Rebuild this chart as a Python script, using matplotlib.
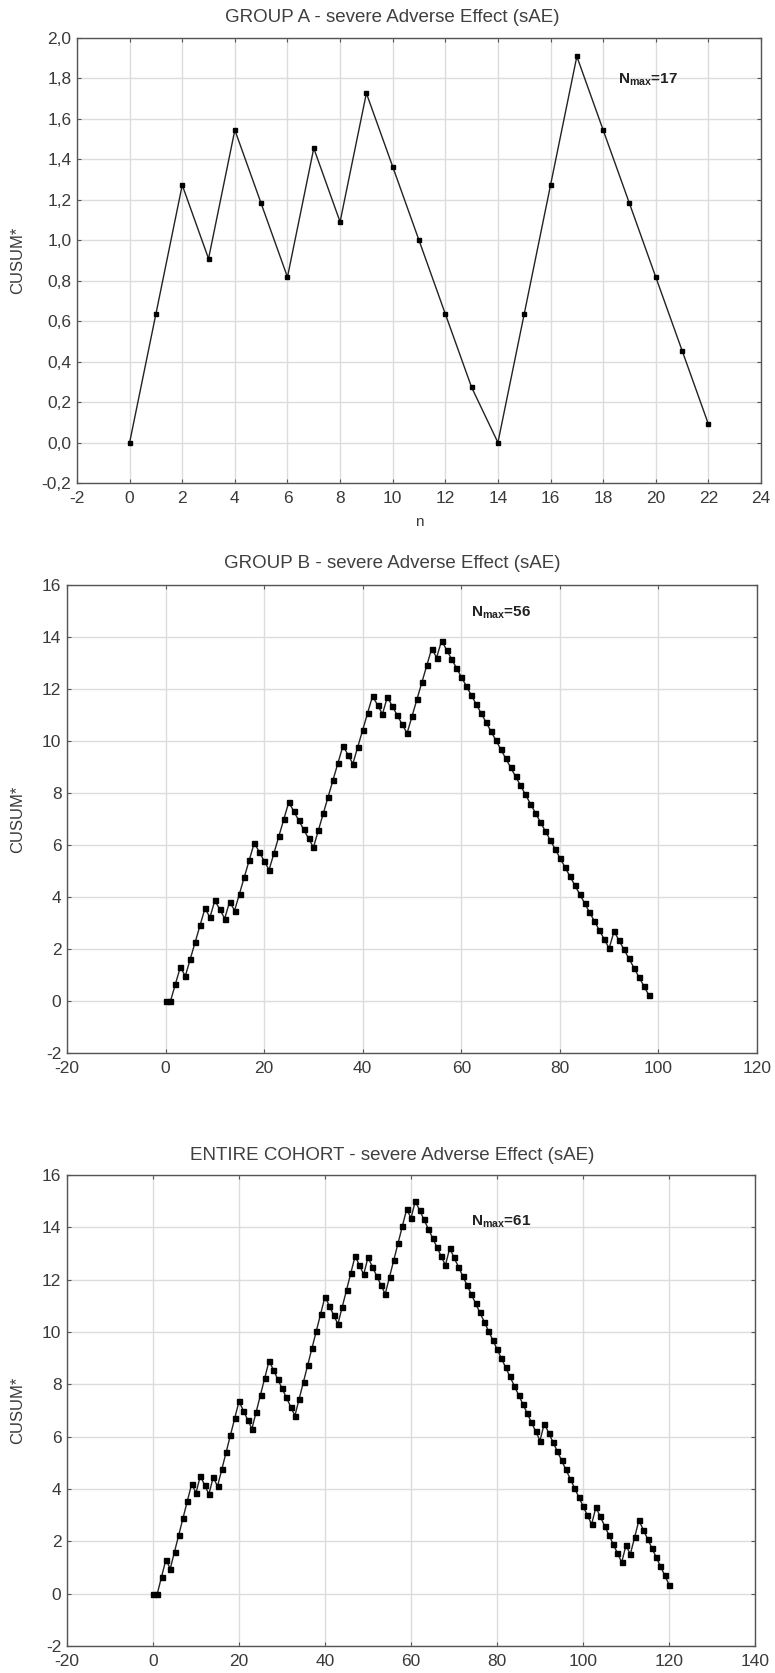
import matplotlib
matplotlib.use("Agg")
import matplotlib.pyplot as plt
from matplotlib.ticker import MultipleLocator, FuncFormatter

plt.rcParams['font.family'] = ['Liberation Sans', 'DejaVu Sans']
plt.rcParams['axes.unicode_minus'] = False
plt.rcParams['mathtext.fontset'] = 'custom'
plt.rcParams['mathtext.rm'] = 'Liberation Sans'
plt.rcParams['mathtext.bf'] = 'Liberation Sans:bold'

# CUSUM* values
cusum_a = [0.0, 0.636, 1.273, 0.909, 1.545, 1.182, 0.818, 1.455, 1.091, 1.727,
           1.364, 1.0, 0.636, 0.273, 0.0, 0.636, 1.273, 1.909, 1.545, 1.182,
           0.818, 0.455, 0.091]

cusum_b = [0.0, 0.0, 0.652, 1.304, 0.956, 1.608, 2.26, 2.912, 3.564, 3.216,
           3.868, 3.52, 3.172, 3.824, 3.476, 4.128, 4.78, 5.432, 6.084, 5.736,
           5.388, 5.04, 5.692, 6.344, 6.996, 7.648, 7.3, 6.952, 6.604, 6.256,
           5.908, 6.56, 7.212, 7.864, 8.516, 9.168, 9.82, 9.472, 9.124, 9.776,
           10.428, 11.08, 11.732, 11.384, 11.036, 11.688, 11.34, 10.992, 10.644, 10.296,
           10.948, 11.6, 12.252, 12.904, 13.556, 13.208, 13.86, 13.512, 13.164, 12.816,
           12.468, 12.12, 11.772, 11.424, 11.076, 10.728, 10.38, 10.032, 9.684, 9.336,
           8.988, 8.64, 8.292, 7.944, 7.596, 7.248, 6.9, 6.552, 6.204, 5.856,
           5.508, 5.16, 4.812, 4.464, 4.116, 3.768, 3.42, 3.072, 2.724, 2.376,
           2.028, 2.68, 2.332, 1.984, 1.636, 1.288, 0.94, 0.592, 0.244]

cusum_all = [0.0, 0.0, 0.65, 1.3, 0.95, 1.6, 2.25, 2.9, 3.55, 4.2,
             3.85, 4.5, 4.15, 3.8, 4.45, 4.1, 4.75, 5.4, 6.05, 6.7,
             7.35, 7.0, 6.65, 6.3, 6.95, 7.6, 8.25, 8.9, 8.55, 8.2,
             7.85, 7.5, 7.15, 6.8, 7.45, 8.1, 8.75, 9.4, 10.05, 10.7,
             11.35, 11.0, 10.65, 10.3, 10.95, 11.6, 12.25, 12.9, 12.55, 12.2,
             12.85, 12.5, 12.15, 11.8, 11.45, 12.1, 12.75, 13.4, 14.05, 14.7,
             14.35, 15.0, 14.65, 14.3, 13.95, 13.6, 13.25, 12.9, 12.55, 13.2,
             12.85, 12.5, 12.15, 11.8, 11.45, 11.1, 10.75, 10.4, 10.05, 9.7,
             9.35, 9.0, 8.65, 8.3, 7.95, 7.6, 7.25, 6.9, 6.55, 6.2,
             5.85, 6.5, 6.15, 5.8, 5.45, 5.1, 4.75, 4.4, 4.05, 3.7,
             3.35, 3.0, 2.65, 3.3, 2.95, 2.6, 2.25, 1.9, 1.55, 1.2,
             1.85, 1.5, 2.15, 2.8, 2.45, 2.1, 1.75, 1.4, 1.05, 0.7,
             0.35]

titles = ["GROUP A - severe Adverse Effect (sAE)",
          "GROUP B - severe Adverse Effect (sAE)",
          "ENTIRE COHORT - severe Adverse Effect (sAE)"]
nmax = [17, 56, 61]

W, H = 775, 1673
fig = plt.figure(figsize=(W / 100, H / 100), dpi=100)


def px_axes(left, top, right, bottom):
    return fig.add_axes([left / W, 1 - bottom / H, (right - left) / W, (bottom - top) / H])


def style(ax, xstep, ystep):
    ax.xaxis.set_major_locator(MultipleLocator(xstep))
    ax.yaxis.set_major_locator(MultipleLocator(ystep))
    ax.grid(True, color='#dcdcdc', lw=1.0)
    ax.set_axisbelow(True)
    ax.tick_params(direction='in', length=3, width=0.8, color='#555555',
                   top=True, right=True, labelsize=12.5, labelcolor='#3a3a3a', pad=4)
    ax.tick_params(axis='x', pad=6)
    for s in ax.spines.values():
        s.set_color('#555555')
        s.set_linewidth(1.0)


def draw(ax, y, ms):
    ax.plot(range(len(y)), y, color='#222222', lw=1.0, marker='s', ms=ms,
            mfc='black', mec='black', zorder=3)


comma = FuncFormatter(lambda v, p: f'{round(v, 1) + 0.0:.1f}'.replace('.', ','))
integer = FuncFormatter(lambda v, p: f'{int(round(v))}')

# group A
ax1 = px_axes(77, 38, 761, 483)
draw(ax1, cusum_a, 3.4)
ax1.set_xlim(-2, 24)
ax1.set_ylim(-0.2, 2.0)
style(ax1, 2, 0.2)
ax1.yaxis.set_major_formatter(comma)
ax1.set_xlabel('n', fontsize=11, color='#3a3a3a', labelpad=6)
ax1.text(18.55, 1.795, 'N$_{\\mathbf{max}}$=%d' % nmax[0], fontsize=11,
         fontweight='bold', va='center', color='#222222')

# group B
ax2 = px_axes(67, 585, 757, 1053)
draw(ax2, cusum_b, 3.6)
ax2.set_xlim(-20, 120)
ax2.set_ylim(-2, 16)
style(ax2, 20, 2)
ax2.yaxis.set_major_formatter(integer)
ax2.text(62, 14.95, 'N$_{\\mathbf{max}}$=%d' % nmax[1], fontsize=11,
         fontweight='bold', va='center', color='#222222')

# entire cohort
ax3 = px_axes(67, 1175, 755, 1646)
draw(ax3, cusum_all, 3.6)
ax3.set_xlim(-20, 140)
ax3.set_ylim(-2, 16)
style(ax3, 20, 2)
ax3.yaxis.set_major_formatter(integer)
ax3.text(74, 14.2, 'N$_{\\mathbf{max}}$=%d' % nmax[2], fontsize=11,
         fontweight='bold', va='center', color='#222222')

for ax, t, ty in zip([ax1, ax2, ax3], titles, [18, 563, 1155]):
    fig.text(392 / W, 1 - ty / H, t, ha='center', va='center', fontsize=13.5, color='#404040')
    box = ax.get_position()
    fig.text(18 / W, box.y0 + box.height / 2, 'CUSUM*', rotation=90, ha='center',
             va='center', fontsize=12, color='#3a3a3a')

fig.savefig('out.png', dpi=100)
